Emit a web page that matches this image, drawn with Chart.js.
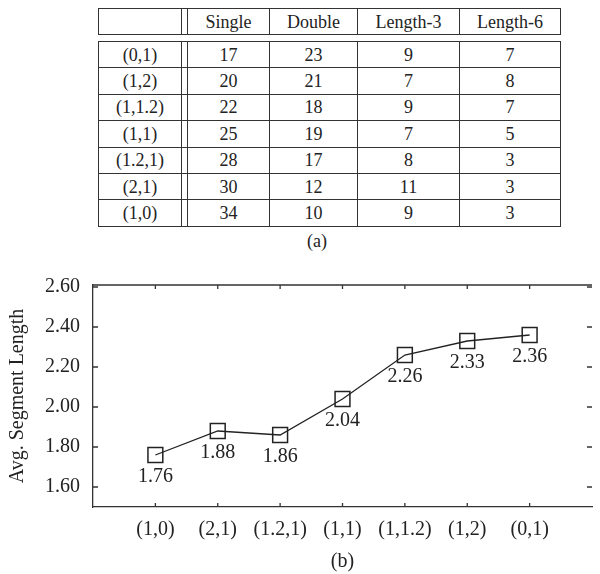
<!DOCTYPE html>
<html>
<head>
<meta charset="utf-8">
<script src="https://cdn.jsdelivr.net/npm/chart.js@4.4.1/dist/chart.umd.min.js"></script>
<style>
  body { margin: 0; width: 600px; height: 574px; overflow: hidden; background: #fff; position: relative;
         font-family: "Times New Roman", "Liberation Serif", "DejaVu Serif", serif; color: #222; }
  table { position: absolute; left: 98px; border-collapse: collapse; table-layout: fixed; width: 462px; font-size: 18px; }
  td { border: 1.3px solid #333; text-align: center; padding: 0; height: 25.4px; line-height: 18px; }
  td.gap { border-left: 1.3px solid #333; border-right: 1.3px solid #333; }
  #head { top: 8px; }
  #body { top: 41px; }
  #cap { position: absolute; left: 297px; width: 40px; top: 231px; text-align: center; font-size: 18px; line-height: 20px; }
  #wrap { position: absolute; left: 0; top: 260px; width: 604px; height: 314px; }
</style>
</head>
<body>
<table id="head"></table>
<table id="body"></table>
<div id="cap">(a)</div>
<div id="wrap"><canvas id="myChart" width="604" height="314"></canvas></div>
<script>
// table (a)
var rowLabels = ['(0,1)', '(1,2)', '(1,1.2)', '(1,1)', '(1.2,1)', '(2,1)', '(1,0)'];
var colHeads = ['Single', 'Double', 'Length-3', 'Length-6'];
var single = [17, 20, 22, 25, 28, 30, 34];
var double = [23, 21, 18, 19, 17, 12, 10];
var length3 = [9, 7, 9, 7, 8, 11, 9];
var length6 = [7, 8, 7, 5, 3, 3, 3];

// chart (b)
var configs = ['(1,0)', '(2,1)', '(1.2,1)', '(1,1)', '(1,1.2)', '(1,2)', '(0,1)'];
var avgLen = [1.76, 1.88, 1.86, 2.04, 2.26, 2.33, 2.36];
var yTicks = [1.6, 1.8, 2.0, 2.2, 2.4, 2.6];

var colWidths = [83, 6, 82, 88, 102, 101];

function colgroup() {
    return '<colgroup>' + colWidths.map(function (w) { return '<col style="width:' + w + 'px">'; }).join('') + '</colgroup>';
}

function buildTables() {
    var h = colgroup() + '<tr><td></td><td class="gap"></td>';
    colHeads.forEach(function (c) { h += '<td>' + c + '</td>'; });
    h += '</tr>';
    document.getElementById('head').innerHTML = h;

    var b = colgroup();
    rowLabels.forEach(function (r, i) {
        b += '<tr><td>' + r + '</td><td class="gap"></td>' +
            '<td>' + single[i] + '</td><td>' + double[i] + '</td>' +
            '<td>' + length3[i] + '</td><td>' + length6[i] + '</td></tr>';
    });
    document.getElementById('body').innerHTML = b;
}

var serif = "'Times New Roman', 'Liberation Serif', 'DejaVu Serif', serif";

// frame top line, inward tick marks and value labels
var framePlugin = {
    id: 'frame',
    afterDraw: function (chart) {
        var ctx = chart.ctx;
        var area = chart.chartArea;
        var xs = chart.scales.x, ys = chart.scales.y;
        ctx.save();
        ctx.strokeStyle = '#333';
        ctx.lineWidth = 1.3;
        ctx.beginPath();
        ctx.moveTo(area.left, area.top);
        ctx.lineTo(area.right, area.top);
        configs.forEach(function (c, i) {
            var px = xs.getPixelForValue(i + 1);
            ctx.moveTo(px, area.top); ctx.lineTo(px, area.top + 4);
            ctx.moveTo(px, area.bottom); ctx.lineTo(px, area.bottom - 4);
        });
        yTicks.forEach(function (t) {
            var py = ys.getPixelForValue(t);
            ctx.moveTo(area.left, py); ctx.lineTo(area.left + 5, py);
            ctx.moveTo(area.right, py); ctx.lineTo(area.right - 5, py);
        });
        ctx.stroke();

        ctx.fillStyle = '#222';
        ctx.font = '20px ' + serif;
        ctx.textAlign = 'center';
        ctx.textBaseline = 'middle';
        chart.getDatasetMeta(0).data.forEach(function (pt, i) {
            ctx.fillText(avgLen[i].toFixed(2), pt.x, pt.y + 22);
        });
        ctx.restore();
    }
};

function displayChart() {
    buildTables();

    var ctx = document.getElementById('myChart').getContext('2d');
    var chart = new Chart(ctx, {
        type: 'line',
        data: {
            datasets: [{
                data: avgLen.map(function (v, i) { return { x: i + 1, y: v }; }),
                borderColor: '#222',
                borderWidth: 1.3,
                tension: 0,
                pointStyle: 'rect',
                pointRadius: 10.5,
                pointHoverRadius: 10.5,
                pointBorderWidth: 1.5,
                pointBorderColor: '#222',
                pointBackgroundColor: 'rgba(0,0,0,0)'
            }]
        },
        options: {
            responsive: false,
            animation: false,
            devicePixelRatio: 1,
            layout: { padding: { top: 21, left: 0, right: 0, bottom: 0 } },
            plugins: { legend: { display: false }, tooltip: { enabled: false } },
            scales: {
                x: {
                    type: 'linear',
                    min: 0,
                    max: 8,
                    afterBuildTicks: function (axis) {
                        axis.ticks = configs.map(function (c, i) { return { value: i + 1 }; });
                    },
                    afterFit: function (axis) { axis.height = 67; },
                    ticks: {
                        padding: 11,
                        color: '#222',
                        font: { family: serif, size: 20 },
                        callback: function (v) { return configs[v - 1]; }
                    },
                    grid: { drawOnChartArea: false, drawTicks: false },
                    border: { display: true, color: '#333', width: 1.3 },
                    title: { display: true, text: '(b)', color: '#222', font: { family: serif, size: 20 }, padding: { top: 0, bottom: 0 } }
                },
                y: {
                    min: 1.5,
                    max: 2.61,
                    afterBuildTicks: function (axis) {
                        axis.ticks = yTicks.map(function (t) { return { value: t }; });
                    },
                    afterFit: function (axis) { axis.width = 93; },
                    ticks: {
                        padding: 13,
                        color: '#222',
                        font: { family: serif, size: 20 },
                        callback: function (v) { return v.toFixed(2); }
                    },
                    grid: { drawOnChartArea: false, drawTicks: false },
                    border: { display: true, color: '#333', width: 1.3 },
                    title: { display: true, text: 'Avg. Segment Length', color: '#222', font: { family: serif, size: 20 }, padding: { top: 6, bottom: 0 } }
                }
            }
        },
        plugins: [framePlugin]
    });
}

displayChart();
</script>
</body>
</html>
